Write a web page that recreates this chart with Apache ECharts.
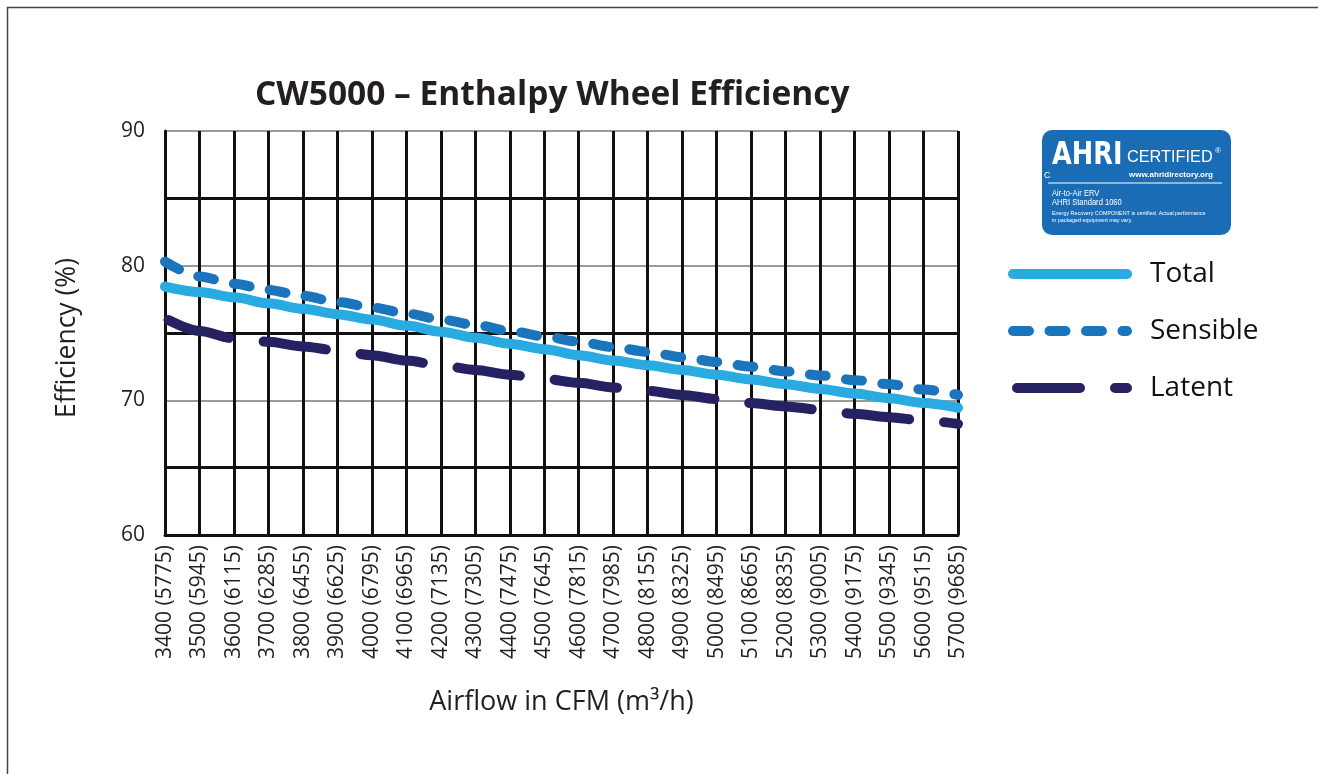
<!DOCTYPE html>
<html lang="en">
<head>
<meta charset="UTF-8">
<title>CW5000 Enthalpy Wheel Efficiency</title>
<script src="https://cdn.jsdelivr.net/npm/echarts@6/dist/echarts.min.js"></script>
<style>
  body { margin: 0; padding: 0; background: #fff; }
  #main { width: 1318px; height: 774px; }
</style>
</head>
<body>
<div id="main"></div>
<script>
// airflow categories: CFM (m3/h)
var cfm = [3400, 3500, 3600, 3700, 3800, 3900, 4000, 4100, 4200, 4300, 4400, 4500,
           4600, 4700, 4800, 4900, 5000, 5100, 5200, 5300, 5400, 5500, 5600, 5700];
var cmh = [5775, 5945, 6115, 6285, 6455, 6625, 6795, 6965, 7135, 7305, 7475, 7645,
           7815, 7985, 8155, 8325, 8495, 8665, 8835, 9005, 9175, 9345, 9515, 9685];

// efficiency (%)
var total    = [78.45, 78.05, 77.65, 77.2, 76.8, 76.4, 76.0, 75.55, 75.1, 74.65, 74.2, 73.8,
                73.35, 72.95, 72.6, 72.25, 71.9, 71.55, 71.2, 70.85, 70.5, 70.15, 69.8, 69.45];
var sensible = [80.3, 79.2, 78.65, 78.2, 77.75, 77.3, 76.9, 76.45, 76.0, 75.6, 75.15, 74.75,
                74.35, 73.95, 73.6, 73.2, 72.85, 72.5, 72.15, 71.85, 71.5, 71.2, 70.8, 70.4];
var latent   = [76.1, 75.15, 74.6, 74.35, 74.0, 73.7, 73.35, 72.95, 72.6, 72.25, 71.9, 71.6,
                71.3, 70.95, 70.7, 70.4, 70.1, 69.8, 69.55, 69.3, 69.0, 68.75, 68.5, 68.25];

var labels = cfm.map(function (v, i) { return v + ' (' + cmh[i] + ')'; });

var font = 'Open Sans';
var chart = echarts.init(document.getElementById('main'));

function lineSeries(name, data, color, dash, offset) {
  return {
    name: name,
    type: 'line',
    data: data,
    symbol: 'none',
    smooth: 0.3,
    smoothMonotone: 'x',
    itemStyle: { color: color },
    lineStyle: { width: 10, color: color, type: dash, cap: 'round', dashOffset: offset || 0 }
  };
}

chart.setOption({
  animation: false,
  title: {
    text: 'CW5000 \u2013 Enthalpy Wheel Efficiency',
    left: 250,
    top: 73,
    textStyle: { fontFamily: font, fontWeight: 'bold', fontSize: 33.5, color: '#231f20' }
  },
  legend: {
    orient: 'vertical',
    left: 1008,
    top: 259,
    padding: 0,
    itemWidth: 114,
    itemHeight: 14,
    itemGap: 27,
    itemStyle: { opacity: 0 },
    lineStyle: { width: 10 },
    textStyle: { fontFamily: font, fontSize: 28, color: '#111', lineHeight: 30, padding: [0, 0, 0, 18] },
    data: ['Total', 'Sensible', 'Latent']
  },
  grid: { left: 165, right: 360, top: 131, bottom: 239 },
  xAxis: {
    type: 'category',
    data: labels,
    boundaryGap: false,
    name: 'Airflow in CFM (m\u00b3/h)',
    nameLocation: 'middle',
    nameGap: 154,
    nameTextStyle: { fontFamily: font, fontSize: 27, color: '#231f20' },
    axisLine: { lineStyle: { color: '#111', width: 3 } },
    axisTick: { show: false },
    axisLabel: { interval: 0, rotate: 90, margin: 10, fontFamily: font, fontSize: 21, color: '#231f20' },
    splitLine: { show: true, interval: 0, lineStyle: { color: '#111', width: 3 } }
  },
  yAxis: [{
    type: 'value',
    min: 60,
    max: 90,
    interval: 10,
    name: 'Efficiency (%)',
    nameLocation: 'middle',
    nameGap: 84,
    nameTextStyle: { fontFamily: font, fontSize: 26.5, color: '#231f20', padding: [0, 10, 0, 0] },
    axisLine: { show: true, lineStyle: { color: '#111', width: 3 } },
    axisTick: { show: false },
    axisLabel: { margin: 20, fontFamily: font, fontSize: 21, color: '#231f20' },
    splitLine: { lineStyle: { color: '#9a9a9a', width: 2 } }
  }, {
    type: 'value',
    min: 60,
    max: 90,
    interval: 5,
    position: 'left',
    axisLine: { show: false },
    axisTick: { show: false },
    axisLabel: { show: false },
    splitLine: { lineStyle: { color: ['rgba(0,0,0,0)', '#111'], width: 3 } }
  }],
  series: [
    lineSeries('Total', total, '#29abe2', 'solid'),
    lineSeries('Sensible', sensible, '#1b75bc', [16, 20.5]),
    lineSeries('Latent', latent, '#262262', [63, 35], -4)
  ],
  graphic: [
    {
      type: 'rect', left: 5, top: 5, silent: true,
      shape: { width: 1330, height: 800 },
      style: { fill: 'none', stroke: '#444', lineWidth: 1.5 }
    },
    {
      type: 'group', left: 1042, top: 130, silent: true,
      children: [
        { type: 'rect', shape: { x: 0, y: 0, width: 189, height: 105, r: 10 }, style: { fill: '#1a6db4' } },
        { type: 'text', x: 10, y: 10, scaleX: 0.8, style: { text: 'AHRI', fill: '#fff', fontFamily: 'DejaVu Sans', fontWeight: 900, fontSize: 32 } },
        { type: 'text', x: 85, y: 20, style: { text: 'CERTIFIED', fill: '#fff', fontFamily: 'Liberation Sans', fontSize: 16.3 } },
        { type: 'text', x: 173, y: 17, style: { text: '\u00ae', fill: '#fff', fontFamily: 'Liberation Sans', fontSize: 8 } },
        { type: 'text', x: 2, y: 41, style: { text: 'C', fill: '#fff', fontFamily: 'Liberation Sans', fontSize: 9 } },
        { type: 'text', x: 171, y: 41, style: { text: 'www.ahridirectory.org', fill: '#fff', align: 'right', fontFamily: 'Liberation Sans', fontWeight: 'bold', fontSize: 8 } },
        { type: 'line', shape: { x1: 6, y1: 53, x2: 180, y2: 53 }, style: { stroke: '#fff', lineWidth: 1 } },
        { type: 'text', x: 10, y: 59, scaleX: 0.84, style: { text: 'Air-to-Air ERV', fill: '#fff', fontFamily: 'Liberation Sans', fontSize: 9 } },
        { type: 'text', x: 10, y: 68, scaleX: 0.84, style: { text: 'AHRI Standard 1060', fill: '#fff', fontFamily: 'Liberation Sans', fontSize: 9 } },
        { type: 'text', x: 10, y: 81, style: { text: 'Energy Recovery COMPONENT is certified. Actual performance', fill: '#fff', fontFamily: 'Liberation Sans', fontSize: 5.4 } },
        { type: 'text', x: 10, y: 88, style: { text: 'in packaged equipment may vary.', fill: '#fff', fontFamily: 'Liberation Sans', fontSize: 5.4 } }
      ]
    }
  ]
});
</script>
</body>
</html>
